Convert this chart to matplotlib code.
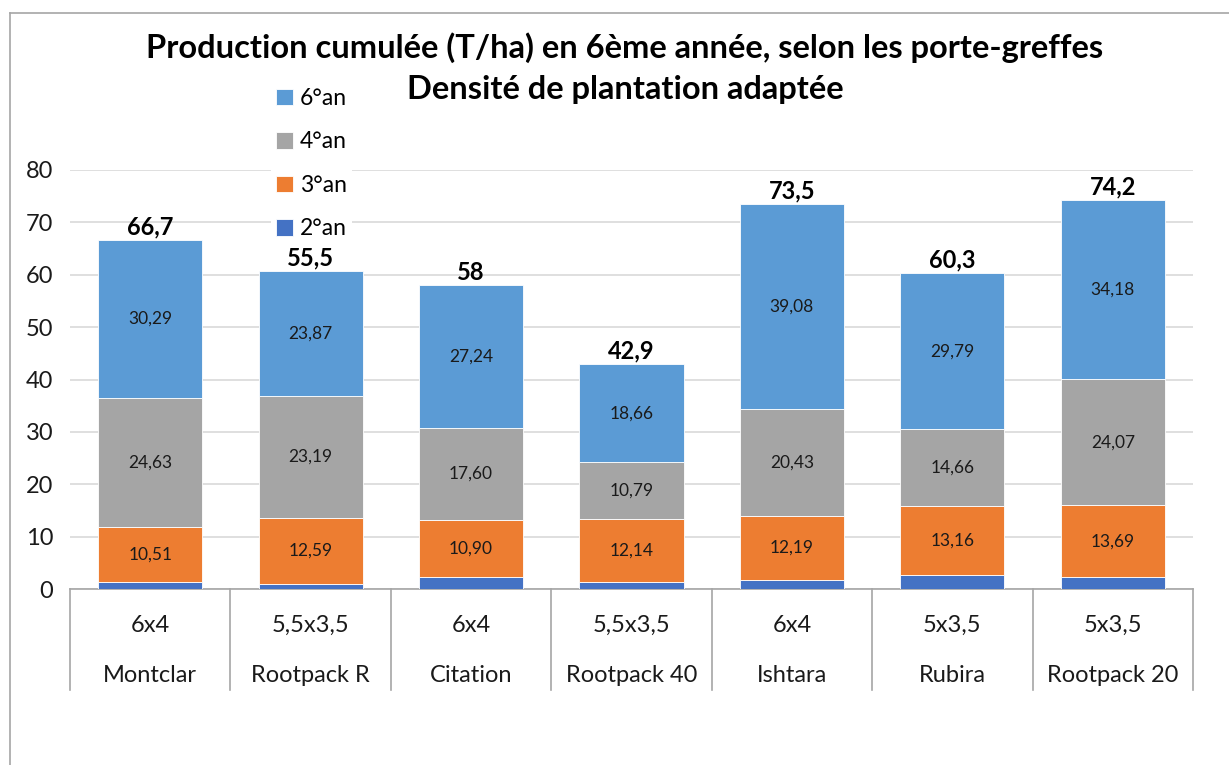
import numpy as np
import matplotlib
matplotlib.use("Agg")
import matplotlib.pyplot as plt
from matplotlib.lines import Line2D

# données
porte_greffes = ["Montclar", "Rootpack R", "Citation", "Rootpack 40", "Ishtara", "Rubira", "Rootpack 20"]
densites = ["6x4", "5,5x3,5", "6x4", "5,5x3,5", "6x4", "5x3,5", "5x3,5"]
an2 = [1.27, 1.0, 2.26, 1.31, 1.8, 2.69, 2.26]
an3 = [10.51, 12.59, 10.90, 12.14, 12.19, 13.16, 13.69]
an4 = [24.63, 23.19, 17.60, 10.79, 20.43, 14.66, 24.07]
an6 = [30.29, 23.87, 27.24, 18.66, 39.08, 29.79, 34.18]
totaux = [66.7, 55.5, 58, 42.9, 73.5, 60.3, 74.2]

series = [("2°an", an2, "#4472C4", False),
          ("3°an", an3, "#ED7D31", True),
          ("4°an", an4, "#A5A5A5", True),
          ("6°an", an6, "#5B9BD5", True)]

plt.rcParams['font.family'] = ['Lato', 'DejaVu Sans']

W, H = 1229, 765
fig = plt.figure(figsize=(W / 100, H / 100), dpi=100)
ax = fig.add_axes([70 / W, 1 - 589 / H, (1193 - 70) / W, (589 - 170) / H])

x = np.arange(len(porte_greffes))
bottom = np.zeros(len(x))
bars = {}
for nom, vals, col, lab in series:
    vals = np.array(vals)
    bars[nom] = ax.bar(x, vals, 0.65, bottom=bottom, color=col, edgecolor="white", linewidth=0.6, zorder=3)
    if lab:
        for xi, b, v in zip(x, bottom, vals):
            ax.text(xi, b + v / 2, f"{v:.2f}".replace(".", ","), ha="center", va="center",
                    fontsize=12.5, color="#1a1a1a", zorder=4)
    bottom = bottom + vals

for xi, top, t in zip(x, bottom, totaux):
    ax.text(xi, top + 0.3, f"{t:g}".replace(".", ","), ha="center", va="bottom",
            fontsize=17, fontweight="bold", color="black", zorder=4)

ax.set_xlim(-0.5, len(x) - 0.5)
ax.set_ylim(0, 80)
ax.set_yticks(range(0, 81, 10))
ax.tick_params(axis="y", length=0, labelsize=17, pad=12, colors="#1a1a1a")
ax.set_xticks([])
ax.yaxis.grid(True, color="#D9D9D9", linewidth=1.2)
ax.set_axisbelow(True)
for s in ["top", "right", "left"]:
    ax.spines[s].set_visible(False)
ax.spines["bottom"].set_color("#A6A6A6")
ax.spines["bottom"].set_linewidth(1.2)

# axe des x à deux niveaux
trans = ax.get_xaxis_transform()
for xi, d, n in zip(x, densites, porte_greffes):
    ax.text(xi, -0.086, d, transform=trans, ha="center", va="center", fontsize=17, color="#1a1a1a")
    ax.text(xi, -0.207, n, transform=trans, ha="center", va="center", fontsize=17, color="#1a1a1a")
for xs in np.arange(len(x) + 1) - 0.5:
    ax.plot([xs, xs], [0, -0.241], transform=trans, color="#A6A6A6", linewidth=1.2, clip_on=False)

# légende
ordre = ["6°an", "4°an", "3°an", "2°an"]
leg = ax.legend([bars[k] for k in ordre], ordre, loc="upper left",
                bbox_to_anchor=(260 / W, 1 - 72 / H), bbox_transform=fig.transFigure,
                frameon=True, facecolor="white", edgecolor="none", framealpha=1, fancybox=False,
                fontsize=16.5, handlelength=0.75, handleheight=0.75, handletextpad=0.3,
                labelspacing=0.98, borderpad=0.2)
leg.set_zorder(6)

fig.text(625 / W, 1 - 48 / H, "Production cumulée (T/ha) en 6ème année, selon les porte-greffes",
         ha="center", va="center", fontsize=23.5, fontweight="bold")
fig.text(625 / W, 1 - 90 / H, "Densité de plantation adaptée",
         ha="center", va="center", fontsize=23.5, fontweight="bold")

# cadre du graphique
fig.add_artist(Line2D([10 / W, 1], [1 - 13 / H, 1 - 13 / H], color="#A6A6A6", linewidth=1.2))
fig.add_artist(Line2D([10 / W, 10 / W], [0, 1 - 13 / H], color="#A6A6A6", linewidth=1.2))

fig.savefig("out.png", dpi=100)
